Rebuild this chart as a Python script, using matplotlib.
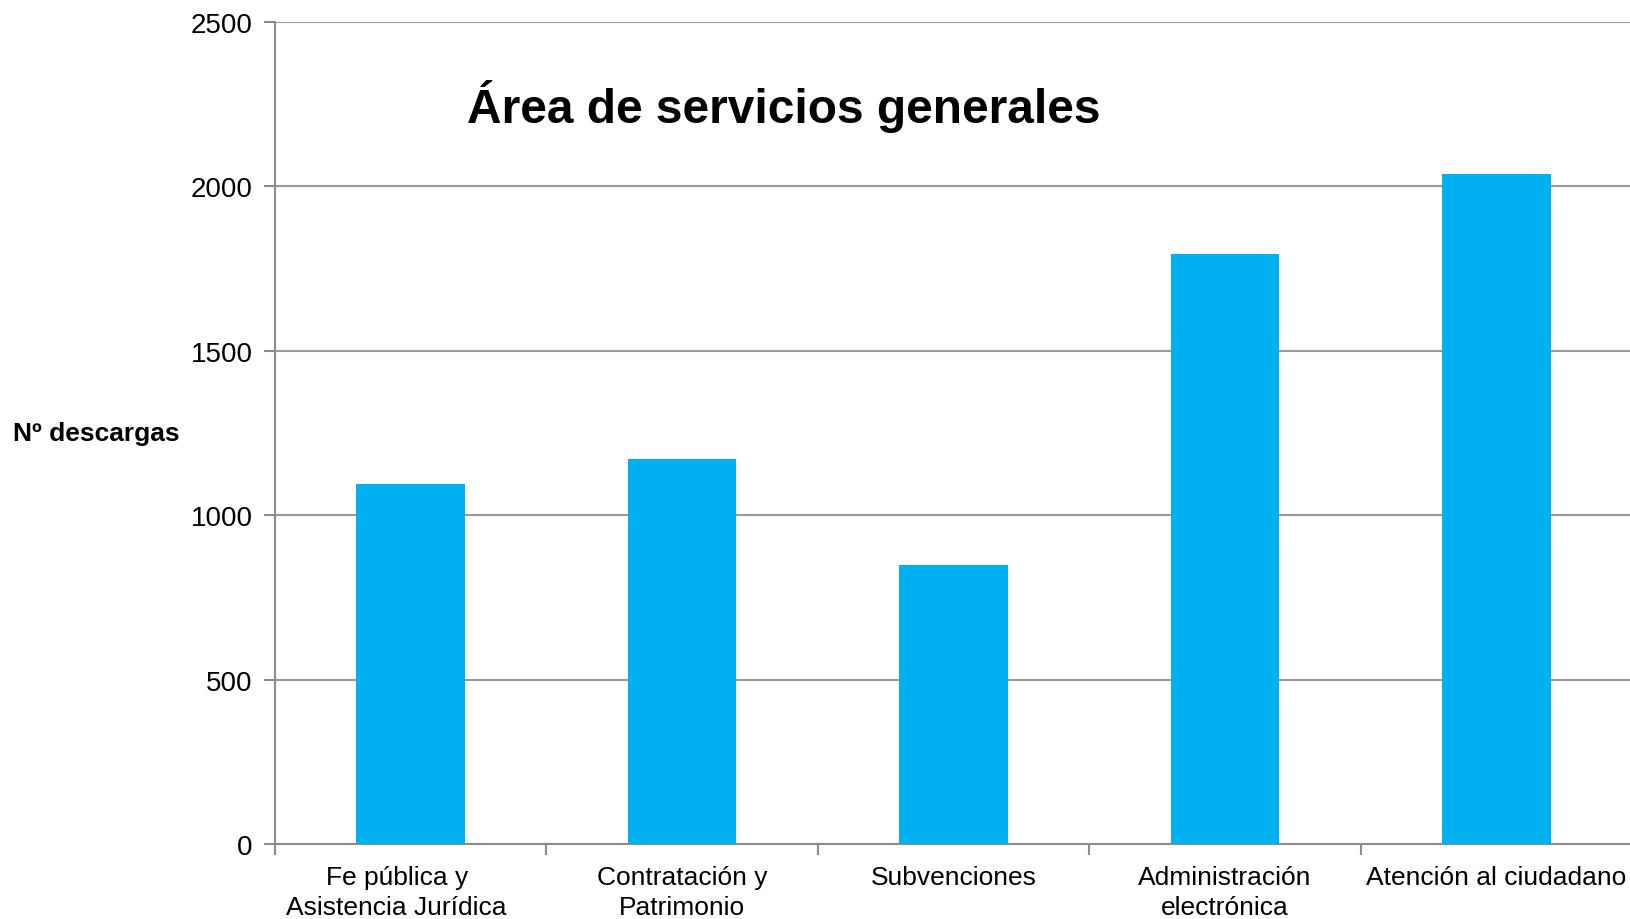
import numpy as np
import matplotlib
matplotlib.use("Agg")
import matplotlib.pyplot as plt
import matplotlib.transforms as mtransforms

categorias = ["Fe pública y\nAsistencia Jurídica", "Contratación y\nPatrimonio",
              "Subvenciones", "Administración\nelectrónica", "Atención al ciudadano"]
descargas = [1095, 1170, 848, 1795, 2038]
y_ticks = [0, 500, 1000, 1500, 2000, 2500]

plt.rcParams['font.family'] = ['Liberation Sans', 'DejaVu Sans']

fig = plt.figure(figsize=(16.3, 9.2), dpi=100)
ax = fig.add_axes([0.1687, 0.0815, 0.8325, 0.8935])

x = np.arange(len(categorias))
ax.bar(x, descargas, width=0.4, color="#00B0F0", zorder=3)

ax.set_ylim(0, 2500)
ax.set_xlim(-0.5, len(categorias) - 0.5)
ax.set_yticks(y_ticks)
ax.set_yticklabels([str(v) for v in y_ticks], fontsize=20)
ax.yaxis.grid(True, color="#999999", linewidth=1.5, zorder=0)
ax.tick_params(axis="y", length=8, width=1.5, color="#8c8c8c", pad=8)

# separators between categories as major ticks, labels on minor ticks
ax.set_xticks(np.arange(-0.5, len(categorias), 1.0))
ax.set_xticklabels([])
ax.set_xticks(x, minor=True)
ax.set_xticklabels(categorias, minor=True, fontsize=19, linespacing=1.3)
ax.tick_params(axis="x", which="major", length=8, width=1.5, color="#8c8c8c")
ax.tick_params(axis="x", which="minor", length=0, pad=15)
# the first label sits a bit left of its bar in the original
lab0 = ax.get_xticklabels(minor=True)[0]
lab0.set_transform(lab0.get_transform() +
                   mtransforms.ScaledTranslation(-0.14, 0, fig.dpi_scale_trans))

for s in ["top", "right"]:
    ax.spines[s].set_visible(False)
for s in ["left", "bottom"]:
    ax.spines[s].set_color("#8c8c8c")
    ax.spines[s].set_linewidth(1.5)

fig.text(0.481, 0.866, "Área de servicios generales", fontsize=34.5, fontweight="bold",
         ha="center", va="baseline")
fig.text(0.0077, 0.528, "Nº descargas", fontsize=19, fontweight="bold",
         ha="left", va="center")

fig.savefig("out.png", dpi=100)
